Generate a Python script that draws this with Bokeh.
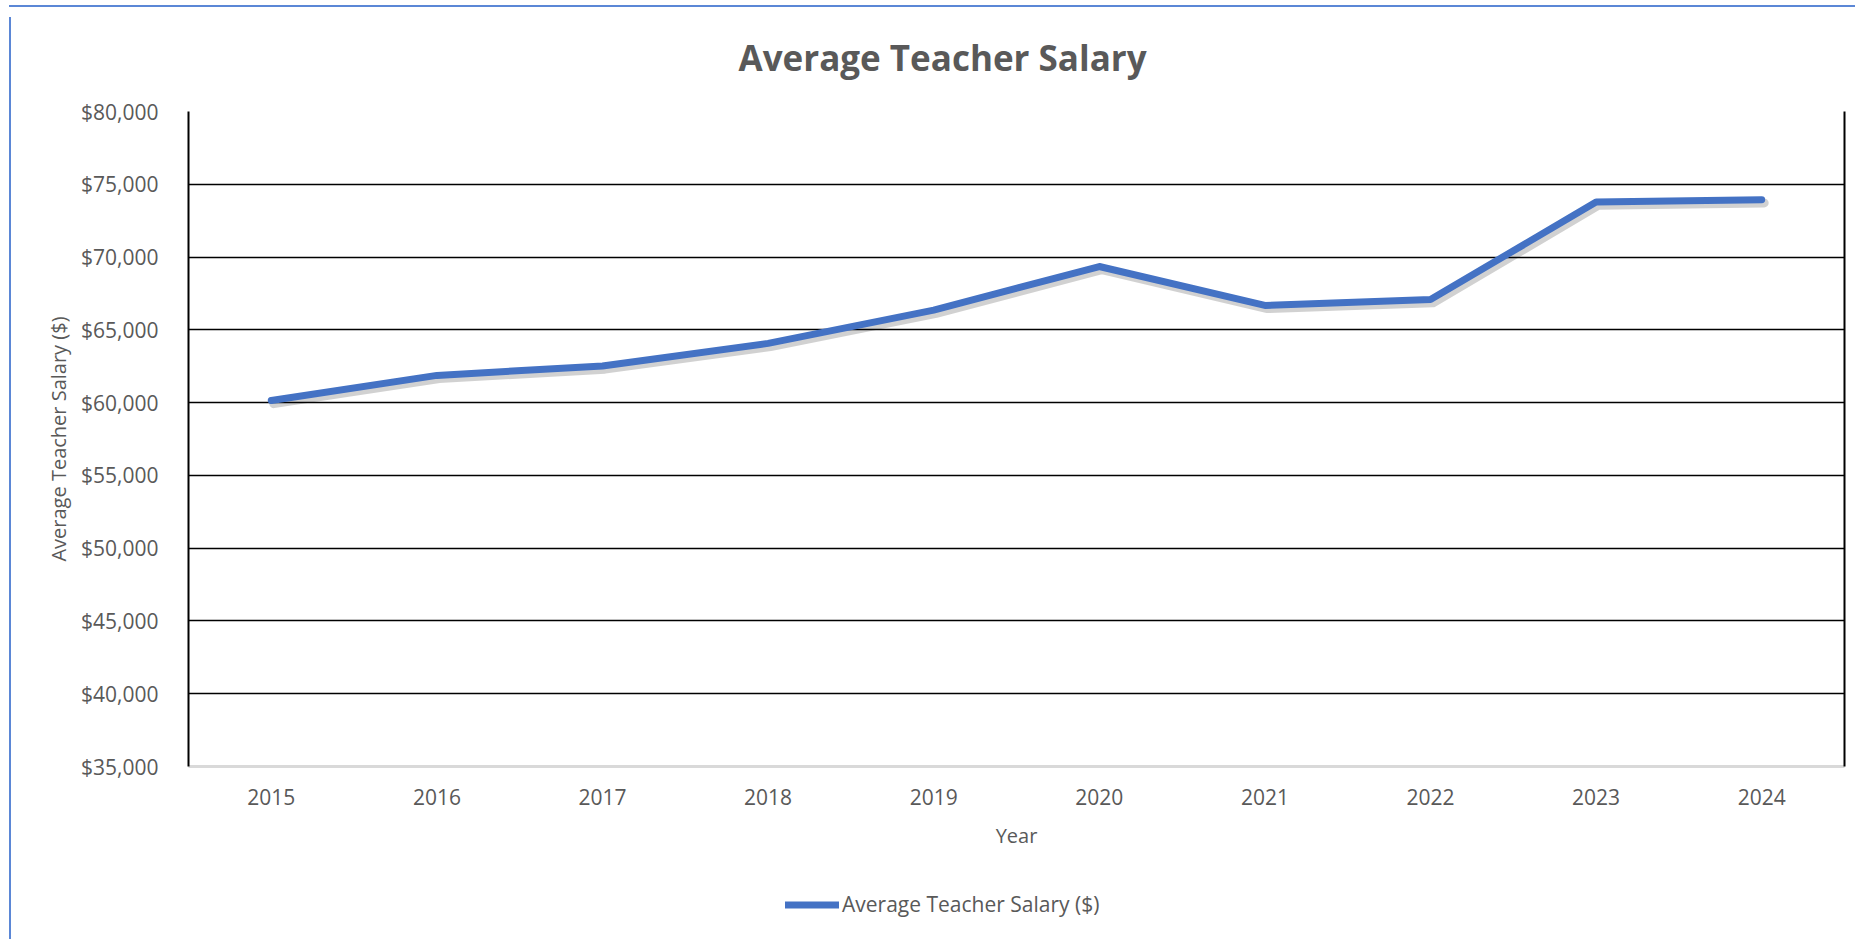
from bokeh.plotting import figure
from bokeh.layouts import column, row
from bokeh.models import (Range1d, FixedTicker, NumeralTickFormatter, Legend, LegendItem,
                          LinearAxis, ColumnDataSource, Div, Spacer, Label)
from bokeh.transform import dodge
from bokeh.embed import file_html
from bokeh.resources import INLINE

years = ["2015", "2016", "2017", "2018", "2019", "2020", "2021", "2022", "2023", "2024"]
salary = [60150, 61870, 62520, 64070, 66350, 69350, 66680, 67080, 73780, 73940]
y_ticks = [35000, 40000, 45000, 50000, 55000, 60000, 65000, 70000, 75000, 80000]
series_name = "Average Teacher Salary ($)"
chart_title = "Average Teacher Salary"

FONT = "Open Sans"
GREY = "#595959"
BLUE = "#4472C4"
FRAME_BLUE = "#5B87D6"
W = 1836


def bare(fig):
    fig.outline_line_color = None
    fig.xgrid.grid_line_color = None
    fig.ygrid.grid_line_color = None
    fig.background_fill_color = "white"
    fig.border_fill_color = "white"


# title strip
p0 = figure(width=W, height=80, output_backend="svg", toolbar_location=None,
            x_axis_type=None, y_axis_type=None, x_range=Range1d(0, 1), y_range=Range1d(0, 1),
            min_border_left=0, min_border_right=0, min_border_top=0, min_border_bottom=0)
bare(p0)
p0.add_layout(Label(x=550, y=35, x_units="screen", y_units="screen", text=chart_title,
                    text_font=FONT, text_font_size="35px", text_font_style="bold",
                    text_color=GREY, text_align="left", text_baseline="alphabetic"))

# main chart
src = ColumnDataSource(dict(year=years, salary=salary))
p = figure(x_range=years, y_range=Range1d(35000, 80000),
           width=W, height=767, output_backend="svg", toolbar_location=None,
           min_border_left=172, min_border_right=8, min_border_top=19, min_border_bottom=93)
p.x_range.range_padding = 0
bare(p)

ya = p.yaxis[0]
ya.ticker = FixedTicker(ticks=y_ticks)
ya.formatter = NumeralTickFormatter(format="$0,0")
ya.major_label_text_font = FONT
ya.major_label_text_font_size = "21px"
ya.major_label_text_color = GREY
ya.major_tick_line_color = None
ya.minor_tick_line_color = None
ya.major_label_standoff = 24
ya.axis_line_color = "black"
ya.axis_line_width = 2
ya.axis_label = series_name
ya.axis_label_text_font = FONT
ya.axis_label_text_font_size = "20px"
ya.axis_label_text_font_style = "normal"
ya.axis_label_text_color = GREY
ya.axis_label_standoff = 6

xa = p.xaxis[0]
xa.major_label_text_font = FONT
xa.major_label_text_font_size = "21px"
xa.major_label_text_color = GREY
xa.major_tick_line_color = None
xa.minor_tick_line_color = None
xa.major_label_standoff = 16
xa.axis_line_color = "#d9d9d9"
xa.axis_line_width = 3
xa.axis_label = "Year"
xa.axis_label_text_font = FONT
xa.axis_label_text_font_size = "20px"
xa.axis_label_text_font_style = "normal"
xa.axis_label_text_color = GREY
xa.axis_label_standoff = 14

# right border
ra = LinearAxis(ticker=FixedTicker(ticks=[]), major_label_text_font_size="0px",
                major_tick_line_color=None, minor_tick_line_color=None,
                axis_line_color="black", axis_line_width=2)
p.add_layout(ra, "right")

p.ygrid.ticker = FixedTicker(ticks=y_ticks)
p.ygrid.grid_line_color = "black"
p.ygrid.grid_line_width = 1.6

# shadow + line
p.line(x=dodge("year", 0.015, range=p.x_range), y=dodge("salary", -220), source=src,
       line_color="black", line_alpha=0.18, line_width=9, line_join="round", line_cap="round")
p.line(x="year", y="salary", source=src, line_color=BLUE, line_width=7,
       line_join="round", line_cap="round")

# legend strip
p2 = figure(width=W, height=75, output_backend="svg", toolbar_location=None,
            x_axis_type=None, y_axis_type=None, x_range=Range1d(0, 1), y_range=Range1d(0, 1),
            min_border_left=0, min_border_right=0, min_border_top=0, min_border_bottom=0)
bare(p2)
r2 = p2.line(x=[-5, -4], y=[-5, -5], line_color=BLUE, line_width=7, line_cap="round")
legend = Legend(items=[LegendItem(label=series_name, renderers=[r2])],
                location=(597, 16), orientation="horizontal",
                label_text_font=FONT, label_text_font_size="21px", label_text_color=GREY,
                glyph_width=54, glyph_height=25, label_height=25, label_standoff=3,
                padding=0, margin=0, border_line_color=None, background_fill_alpha=0)
p2.add_layout(legend, "center")

# chart-area frame lines (blue, left and top)
top_line = Div(text="", width=1846, height=2, styles={"background-color": FRAME_BLUE})
left_line = Div(text="", width=2, height=922, styles={"background-color": FRAME_BLUE})

layout = column(
    row(Spacer(width=4), top_line, spacing=0),
    row(Spacer(width=4), left_line, column(p0, p, p2, spacing=0), spacing=0),
    spacing=0,
)
open("out.html", "w").write(file_html(layout, INLINE))
